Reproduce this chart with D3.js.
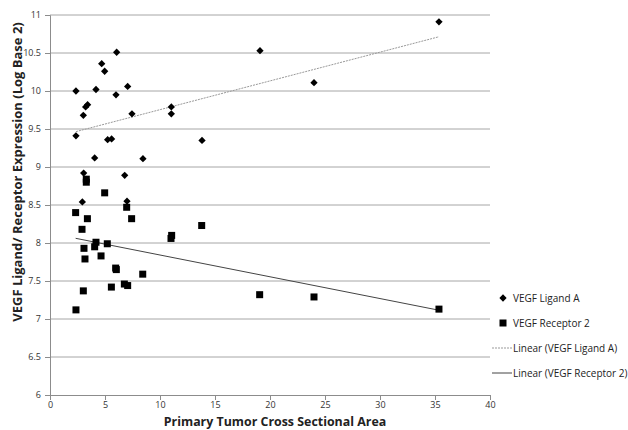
<!DOCTYPE html>
<html>
<head>
<meta charset="utf-8">
<script src="https://cdn.jsdelivr.net/npm/d3@7"></script>
<style>
  body { margin: 0; background: #fff; }
  text { font-family: "Open Sans", "Liberation Sans", sans-serif; }
</style>
</head>
<body>
<svg id="chart"></svg>
<script>
// Ligand A (diamonds): area, expression
const ligandX = [35.36, 19.09, 6.06, 4.7, 4.97, 24.0, 7.06, 4.18, 2.36, 6.0, 3.42, 3.24, 11.03,
    3.03, 7.45, 11.03, 2.36, 5.24, 5.6, 13.82, 4.06, 8.45, 3.06, 6.79, 2.94, 7.0];
const ligandY = [10.91, 10.53, 10.51, 10.36, 10.26, 10.11, 10.06, 10.02, 10.0, 9.95, 9.82, 9.79, 9.79,
    9.68, 9.70, 9.70, 9.41, 9.36, 9.37, 9.35, 9.12, 9.11, 8.92, 8.89, 8.54, 8.55];

// Receptor 2 (squares)
const receptorX = [3.3, 3.3, 4.97, 2.33, 6.97, 3.4, 7.42, 2.91, 11.06, 11.0, 4.18, 5.21, 4.06, 3.09,
    4.64, 3.18, 5.97, 6.03, 8.43, 6.76, 7.06, 5.58, 3.03, 2.36, 13.79, 19.06, 24.0, 35.36];
const receptorY = [8.84, 8.80, 8.66, 8.40, 8.47, 8.32, 8.32, 8.18, 8.10, 8.06, 8.01, 7.99, 7.95, 7.93,
    7.83, 7.79, 7.67, 7.65, 7.59, 7.46, 7.44, 7.42, 7.37, 7.12, 8.23, 7.32, 7.29, 7.13];

const xTicks = [0, 5, 10, 15, 20, 25, 30, 35, 40];
const yTicks = [6, 6.5, 7, 7.5, 8, 8.5, 9, 9.5, 10, 10.5, 11];
const legendLabels = ["VEGF Ligand A", "VEGF Receptor 2", "Linear (VEGF Ligand A)", "Linear (VEGF Receptor 2)"];

const W = 628, H = 430;
const margin = {top: 15, right: 138, bottom: 35, left: 50},
    width = W - margin.left - margin.right,
    height = H - margin.top - margin.bottom;

const svg = d3.select("#chart").attr("width", W).attr("height", H);
const g = svg.append("g").attr("transform", `translate(${margin.left},${margin.top})`);

const x = d3.scaleLinear().domain([0, 40]).range([0, width]);
const y = d3.scaleLinear().domain([6, 11]).range([height, 0]);

// gridlines
g.selectAll(".grid").data(yTicks.slice(1)).enter().append("line")
    .attr("x1", 0).attr("x2", width)
    .attr("y1", d => y(d)).attr("y2", d => y(d))
    .attr("stroke", "#a6a6a6").attr("stroke-width", 1);

// axes
const yAxis = g.append("g")
    .call(d3.axisLeft(y).tickValues(yTicks).tickSize(5).tickPadding(4).tickFormat(d => d));
const xAxis = g.append("g")
    .attr("transform", `translate(0,${height})`)
    .call(d3.axisBottom(x).tickValues(xTicks).tickSize(5).tickPadding(2));
[xAxis, yAxis].forEach(a => {
    a.select(".domain").attr("stroke", "#8c8c8c");
    a.selectAll(".tick line").attr("stroke", "#8c8c8c");
    a.selectAll("text").attr("font-size", 9).attr("fill", "#333");
});

// trendlines (least squares, as the chart's linear trend)
function fit(xs, ys) {
    const mx = d3.mean(xs), my = d3.mean(ys);
    const b = d3.sum(xs, (v, i) => (v - mx) * (ys[i] - my)) / d3.sum(xs, v => (v - mx) * (v - mx));
    return v => my + b * (v - mx);
}
const fl = fit(ligandX, ligandY), fr = fit(receptorX, receptorY);
const lx = d3.extent(ligandX), rx = d3.extent(receptorX);
g.append("line")
    .attr("x1", x(lx[0])).attr("y1", y(fl(lx[0])))
    .attr("x2", x(lx[1])).attr("y2", y(fl(lx[1])))
    .attr("stroke", "#999").attr("stroke-width", 1).attr("stroke-dasharray", "2,1");
g.append("line")
    .attr("x1", x(rx[0])).attr("y1", y(fr(rx[0])))
    .attr("x2", x(rx[1])).attr("y2", y(fr(rx[1])))
    .attr("stroke", "#444").attr("stroke-width", 1);

// markers
const diamond = d3.symbol().type(d3.symbolDiamond2).size(34);
g.selectAll(".lig").data(ligandX).enter().append("path")
    .attr("d", diamond)
    .attr("transform", (d, i) => `translate(${x(d)},${y(ligandY[i])})`)
    .attr("fill", "#000");
g.selectAll(".rec").data(receptorX).enter().append("rect")
    .attr("x", d => x(d) - 3.5)
    .attr("y", (d, i) => y(receptorY[i]) - 3.5)
    .attr("width", 7).attr("height", 7)
    .attr("fill", "#000");

// axis titles
svg.append("text")
    .attr("x", 275).attr("y", 426)
    .attr("text-anchor", "middle")
    .attr("font-size", 12.4).attr("font-weight", "bold").attr("fill", "#222")
    .text("Primary Tumor Cross Sectional Area");
svg.append("text")
    .attr("transform", "translate(22,172) rotate(-90)")
    .attr("text-anchor", "middle")
    .attr("font-size", 13).attr("font-weight", "bold").attr("fill", "#222")
    .text("VEGF Ligand/ Receptor Expression (Log Base 2)");

// legend
const leg = svg.append("g").attr("transform", "translate(492,298)");
legendLabels.forEach((lab, i) => {
    const row = leg.append("g").attr("transform", `translate(0,${i * 25})`);
    if (i === 0) row.append("path").attr("d", diamond).attr("transform", "translate(11,0)");
    if (i === 1) row.append("rect").attr("x", 7.5).attr("y", -3.5).attr("width", 7).attr("height", 7);
    if (i === 2) row.append("line").attr("x1", 0).attr("x2", 20).attr("stroke", "#999").attr("stroke-dasharray", "2,1");
    if (i === 3) row.append("line").attr("x1", 0).attr("x2", 20).attr("stroke", "#444");
    row.append("text").attr("x", 21).attr("y", 3.5)
        .attr("font-size", 10).attr("fill", "#222").text(lab);
});
</script>
</body>
</html>
